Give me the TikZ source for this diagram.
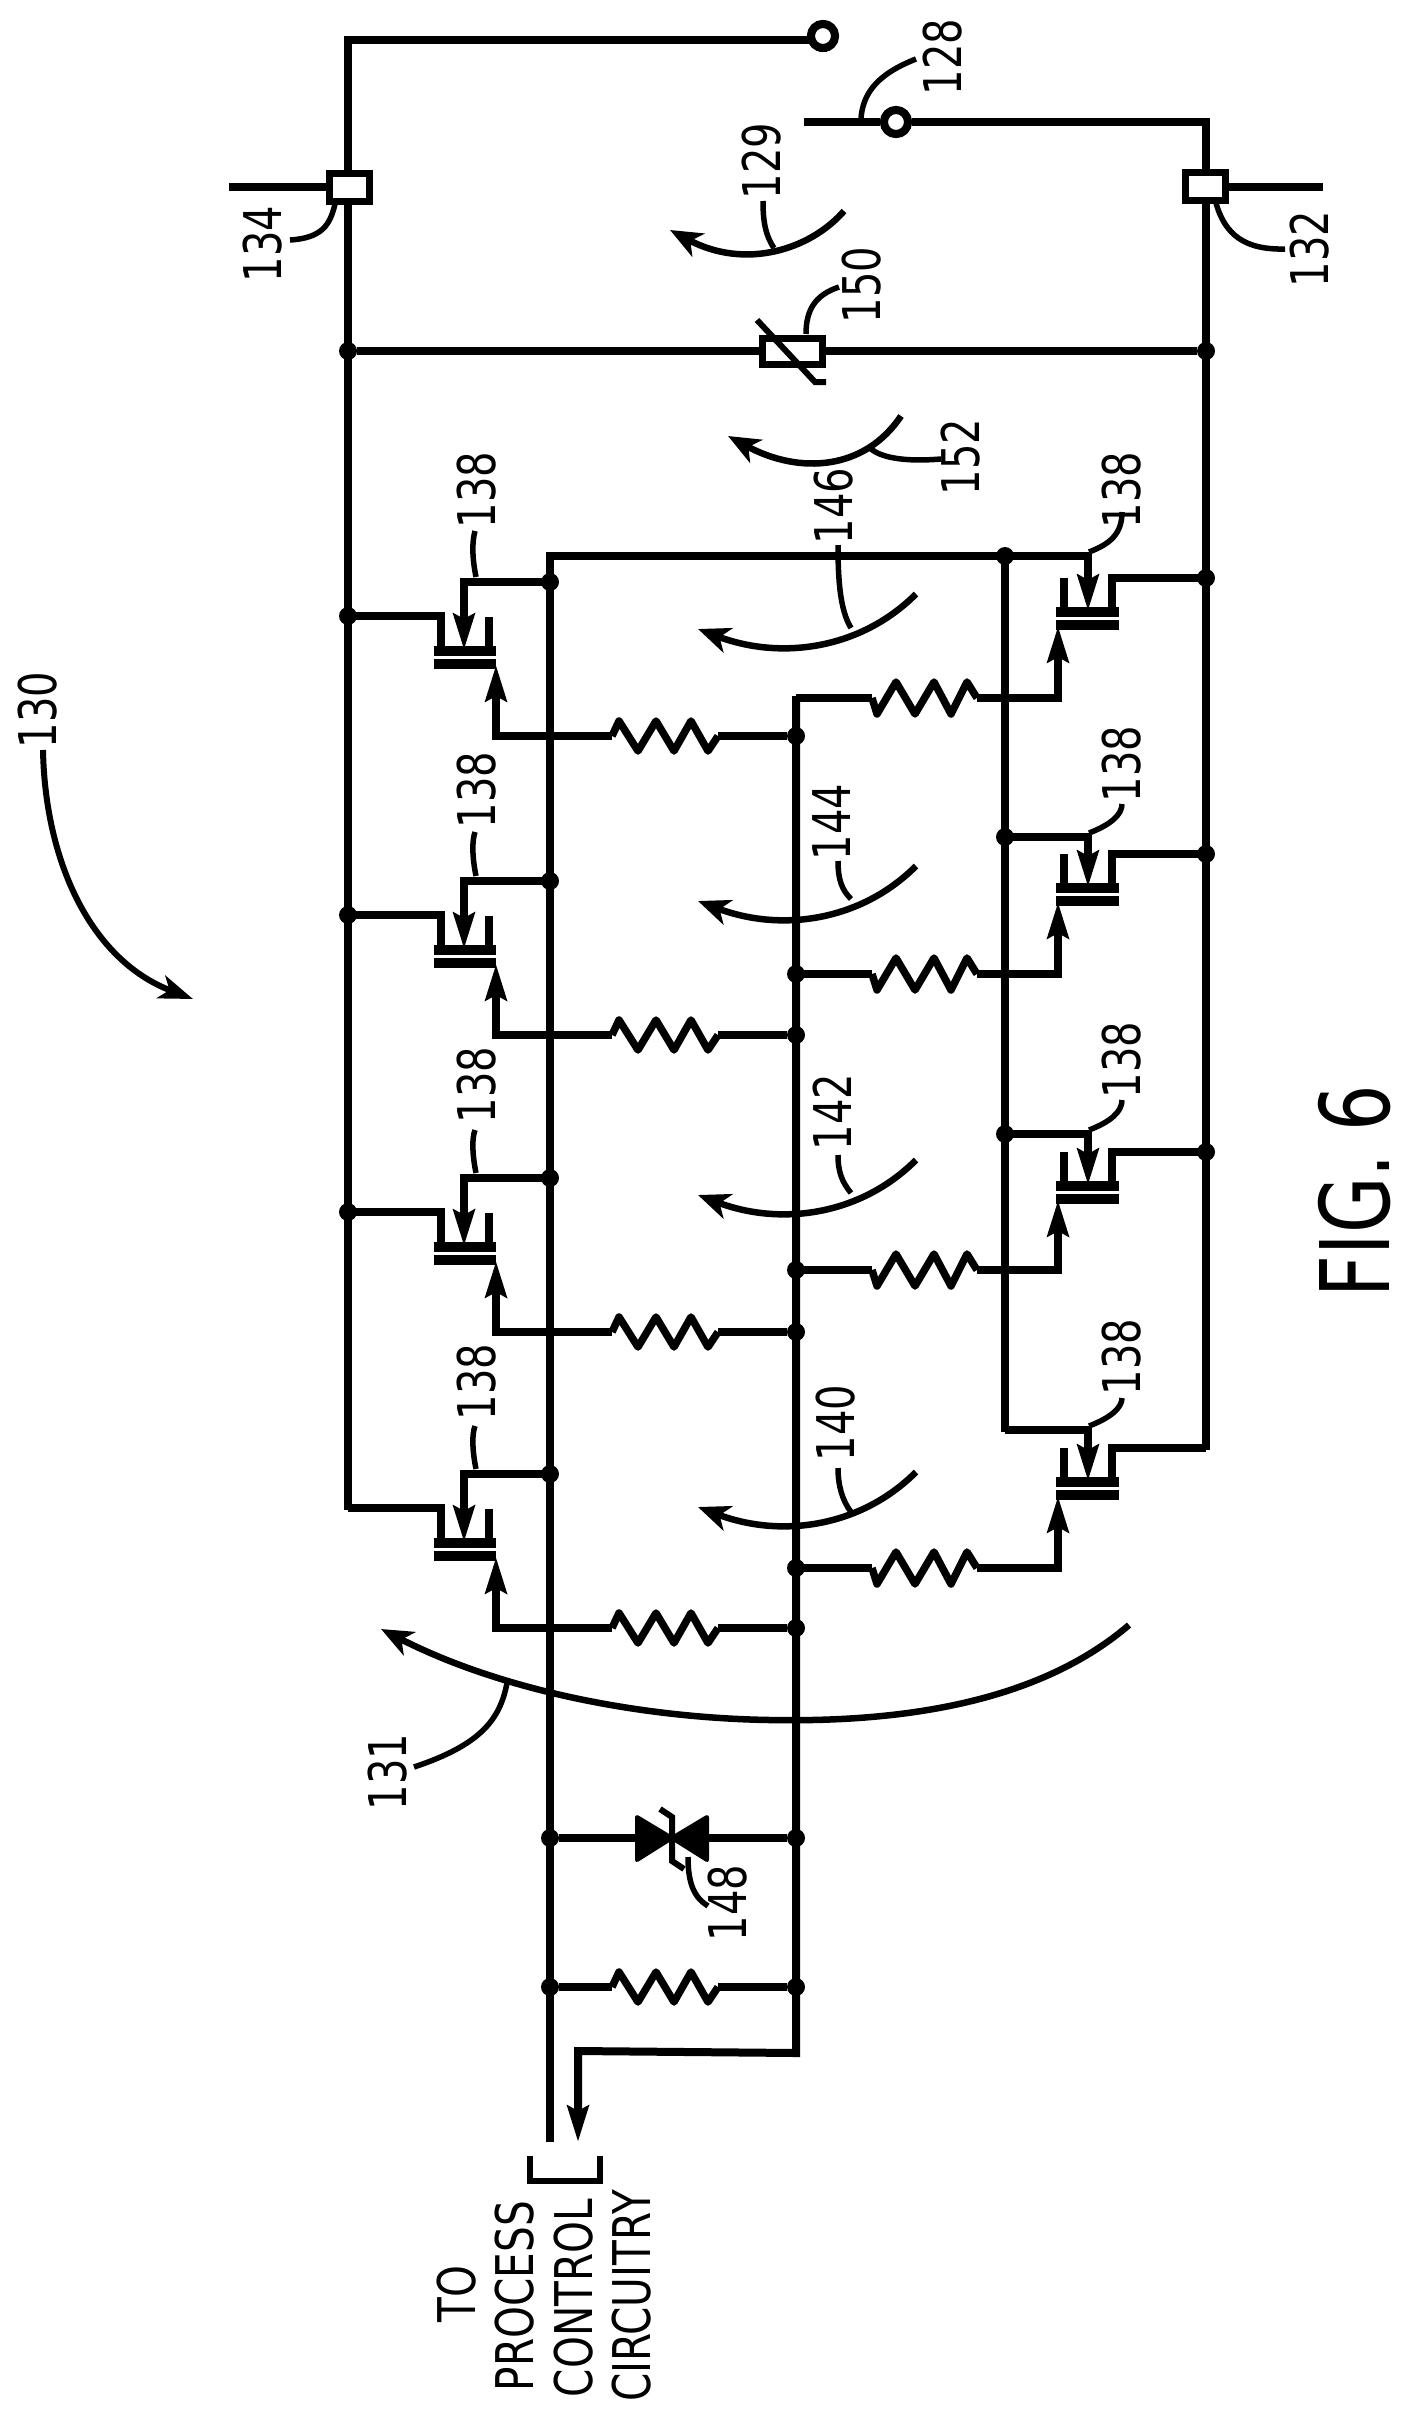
\documentclass[tikz,border=0pt]{standalone}
\usepackage{fontspec}
\usepackage{graphicx}
\setmainfont{DejaVu Sans}
\usetikzlibrary{arrows.meta}
\newcommand{\nar}[1]{\scalebox{.77}[1]{#1}}
\newcommand{\zigA}{-- ++(7,-15) -- ++(19,30) -- ++(18,-30) -- ++(18,30) -- ++(17,-30) -- ++(17,30) -- ++(10,-15)}
\newcommand{\zigB}{-- ++(5,16) -- ++(19,-32) -- ++(19,32) -- ++(19,-32) -- ++(17,32) -- ++(16,-32) -- ++(10,16)}
\tikzset{
  wire/.style={line width=8pt,line join=miter,line cap=butt},
  zig/.style={line width=7.5pt,line join=round},
  barline/.style={line width=10pt},
  lead/.style={line width=5.5pt},
  arc/.style={line width=6.5pt,-{Stealth[length=32pt,width=26pt,inset=9pt]}},
  thin tip/.style={-{Stealth[length=36pt,width=21pt,inset=5pt]}},
  dot/.style={circle,fill=black,inner sep=0pt,minimum size=18pt},
  term/.style={circle,draw=black,fill=white,line width=8pt,inner sep=0pt,minimum size=24pt},
  tbox/.style={rectangle,draw=black,fill=white,line width=7pt,inner sep=0pt,minimum width=40pt,minimum height=28pt},
  lbl/.style={rotate=90,inner sep=0pt,font=\fontsize{52}{52}\selectfont},
}
\begin{document}
\begin{tikzpicture}[x=1pt,y=-1pt]
\useasboundingbox (0,0) rectangle (1413,2419);
% main rails
\coordinate (ltop) at (348,40);
\coordinate (lbot) at (348,1510);
\coordinate (rtop) at (1206,122);
\coordinate (rbot) at (1206,1450);
\coordinate (swl) at (804,122);
\coordinate (lbt) at (550,556);
\coordinate (lbb) at (550,2142);
\coordinate (mbt) at (796,696);
\coordinate (mbb) at (796,2053);
\coordinate (ibt) at (1005,556);
\coordinate (ibb) at (1005,1432);
\coordinate (tbe) at (1088,556);
\coordinate (outc) at (578,2051);
\coordinate (outt) at (578,2142);
\node[term] (upT) at (823,36) {};
\node[term] (swT) at (896,122) {};
\draw[wire] (upT) |- (ltop) -- (lbot);
\draw[wire] (swl) -- (swT) -- (rtop) -- (rbot);
\draw[wire] (lbb) -- (lbt) -- (tbe);
\draw[wire] (ibt) -- (ibb);
\draw[wire,thin tip] (mbt) -- (mbb) -- (outc) -- (outt);
\node[term] at (upT) {};
\node[term] at (swT) {};
% relay-side boxes
\coordinate (s134) at (229,187);
\coordinate (s132) at (1323,187);
\draw[wire] (s134) -- (348,187);
\draw[wire] (s132) -- (1206,187);
\node[tbox] (b134) at (349,188) {};
\node[tbox] (b132) at (1205,187) {};
% varistor
\node[dot] (vl) at (348,351) {};
\node[dot] (vr) at (1206,351) {};
\draw[wire] (vl) -- (vr);
\node[tbox,minimum width=60pt,minimum height=26pt] (var) at (792,351) {};
\coordinate (vsa) at (757,320);
\coordinate (vsb) at (815,382);
\coordinate (vsc) at (826,382);
\draw[line width=6pt] (vsa) -- (vsb) -- (vsc);
% left transistors
\foreach \i/\D/\L in {1/582/736,2/881/1035,3/1178/1332,4/1474/1628}{
  \coordinate (lgt\i) at (441,\D+34);
  \coordinate (lgb\i) at (441,\D+69);
  \coordinate (lga\i) at (348,\D+34);
  \coordinate (lsa\i) at (489,\D+35);
  \coordinate (lsb\i) at (489,\D+69);
  \coordinate (lba\i) at (434,\D+69);
  \coordinate (lbb\i) at (496,\D+69);
  \coordinate (lca\i) at (434,\D+82);
  \coordinate (lcb\i) at (496,\D+82);
  \coordinate (ldb\i) at (550,\D);
  \coordinate (ldc\i) at (464,\D);
  \coordinate (ldt\i) at (464,\D+68);
  \coordinate (lre\i) at (718,\L);
  \coordinate (lrs\i) at (612,\L);
  \coordinate (lrc\i) at (496,\L);
  \coordinate (lrt\i) at (496,\D+83);
  \node[dot] (lrd\i) at (796,\L) {};
  \draw[wire] (lga\i) -| (lgb\i);
  \draw[wire] (lsa\i) -- (lsb\i);
  \draw[barline] (lba\i) -- (lbb\i);
  \draw[barline] (lca\i) -- (lcb\i);
  \draw[wire,thin tip] (ldb\i) -- (ldc\i) -- (ldt\i);
  \draw[wire] (lrd\i) -- (lre\i);
  \draw[zig] (lrs\i) \zigA;
  \draw[wire,thin tip] (lrs\i) -- (lrc\i) -- (lrt\i);
  \node[dot] at (ldb\i) {};
}
\foreach \i in {1,2,3}{\node[dot] at (lga\i) {};}
% right transistors
\foreach \i/\T/\R/\L in {1/556/578/698,2/837/854/974,3/1134/1152/1270,4/1430/1448/1568}{
  \coordinate (rra\i) at (1206,\R);
  \coordinate (rpb\i) at (1112,\R+34);
  \coordinate (rsa\i) at (1064,\R);
  \coordinate (rsb\i) at (1064,\R+34);
  \coordinate (rba\i) at (1056,\R+34);
  \coordinate (rbb\i) at (1119,\R+34);
  \coordinate (rca\i) at (1056,\R+47);
  \coordinate (rcb\i) at (1119,\R+47);
  \coordinate (rda\i) at (1005,\T);
  \coordinate (rdc\i) at (1088,\T);
  \coordinate (rdt\i) at (1088,\R+33);
  \coordinate (rrs\i) at (872,\L);
  \coordinate (rre\i) at (977,\L);
  \coordinate (rlc\i) at (1058,\L);
  \coordinate (rlt\i) at (1058,\R+48);
  \coordinate (rmb\i) at (796,\L);
  \draw[wire] (rra\i) -| (rpb\i);
  \draw[wire] (rsa\i) -- (rsb\i);
  \draw[barline] (rba\i) -- (rbb\i);
  \draw[barline] (rca\i) -- (rcb\i);
  \draw[wire,thin tip] (rda\i) -- (rdc\i) -- (rdt\i);
  \draw[wire] (rmb\i) -- (rrs\i);
  \draw[zig] (rrs\i) \zigB;
  \draw[wire,thin tip] (rre\i) -- (rlc\i) -- (rlt\i);
}
\foreach \i in {1,2,3}{\node[dot] at (rra\i) {};}
\foreach \i in {2,3,4}{\node[dot] at (rmb\i) {};}
\foreach \i in {2,3}{\node[dot] at (rda\i) {};}
\node[dot] at (ibt) {};
% lower section
\node[dot] (zl) at (550,1838) {};
\node[dot] (zr) at (796,1838) {};
\node[dot] (rl) at (550,1987) {};
\node[dot] (rr) at (796,1987) {};
\draw[wire] (zl) -- (zr);
\draw[line width=4pt,line join=round,fill=black] (637,1817) -- (637,1860) -- (672,1838) -- cycle;
\draw[line width=4pt,line join=round,fill=black] (707,1817) -- (707,1860) -- (672,1838) -- cycle;
\draw[line width=6pt] (660,1809) -- (672,1817) -- (672,1861) -- (684,1869);
\coordinate (rbs) at (612,1987);
\coordinate (rbe) at (718,1987);
\draw[wire] (rl) -- (rbs);
\draw[wire] (rbe) -- (rr);
\draw[zig] (rbs) \zigA;
% bracket
\coordinate (bra) at (530,2156);
\coordinate (brb) at (530,2181);
\coordinate (brc) at (600,2181);
\coordinate (brd) at (600,2156);
\draw[line width=6.5pt] (bra) -- (brb) -- (brc) -- (brd);
% rotation arcs
\draw[arc] (844,211) .. controls (810,250) and (745,270) .. (670,230);
\draw[arc] (901,416) .. controls (865,470) and (800,475) .. (728,436);
\foreach \t in {0,272,566,878}{
  \draw[arc] (916,594+\t) .. controls (860,650+\t) and (780,660+\t) .. (698,629+\t);
}
\draw[arc] (1129,1625) .. controls (1030,1710) and (880,1722) .. (770,1720) .. controls (640,1718) and (500,1690) .. (381,1629);
% leaders
\draw[lead] (861,118) .. controls (863,95) and (875,75) .. (916,59);
\draw[lead] (763,201) .. controls (763,220) and (765,235) .. (774,248);
\draw[lead] (1216,203) .. controls (1225,235) and (1245,250) .. (1285,249);
\draw[lead] (335,204) .. controls (330,225) and (322,238) .. (290,240);
\draw[lead] (806,334) .. controls (806,310) and (815,295) .. (839,287);
\draw[lead] (868,446) .. controls (878,458) and (905,462) .. (941,459);
\draw[lead] (838,545) .. controls (838,580) and (840,610) .. (851,628);
\draw[lead] (838,861) .. controls (838,880) and (842,890) .. (851,899);
\draw[lead] (838,1155) .. controls (838,1172) and (842,1182) .. (851,1193);
\draw[lead] (838,1468) .. controls (838,1485) and (842,1500) .. (851,1512);
\draw[lead] (507,1683) .. controls (500,1720) and (480,1745) .. (414,1767);
\draw[lead] (688,1857) .. controls (688,1885) and (695,1898) .. (708,1906);
\draw[line width=6pt,-{Stealth[length=34pt,width=24pt,inset=9pt]}] (43,750) .. controls (45,860) and (90,960) .. (193,999);
\foreach \y/\e in {582/531,881/832,1178/1130,1474/1426}{
  \draw[lead] (476,\y-5) .. controls (472,\y-25) and (472,\y-40) .. (475,\e);
}
\foreach \a/\b in {556/512,837/804,1134/1100,1430/1398}{
  \draw[lead] (1089,\a-4) .. controls (1110,\a-12) and (1122,\a-22) .. (1122,\b);
}
% labels
\node[lbl] (t128) at (943,57) {\nar{128}};
\node[lbl] (t129) at (762,161) {\nar{129}};
\node[lbl] (t132) at (1310,249) {\nar{132}};
\node[lbl] (t134) at (263,244) {\nar{134}};
\node[lbl] (t150) at (862,285) {\nar{150}};
\node[lbl] (t152) at (961,457) {\nar{152}};
\node[lbl] (t146) at (834,506) {\nar{146}};
\node[lbl] (t144) at (832,822) {\nar{144}};
\node[lbl] (t142) at (832,1112) {\nar{142}};
\node[lbl] (t140) at (836,1423) {\nar{140}};
\node[lbl] (t131) at (388,1772) {\nar{131}};
\node[lbl] (t148) at (728,1903) {\nar{148}};
\node[lbl] (t130) at (38,710) {\nar{130}};
\node[lbl] (tl1) at (477,490) {\nar{138}};
\node[lbl] (tl2) at (477,790) {\nar{138}};
\node[lbl] (tl3) at (477,1085) {\nar{138}};
\node[lbl] (tl4) at (477,1382) {\nar{138}};
\node[lbl] (tr1) at (1122,490) {\nar{138}};
\node[lbl] (tr2) at (1122,764) {\nar{138}};
\node[lbl] (tr3) at (1122,1060) {\nar{138}};
\node[lbl] (tr4) at (1122,1357) {\nar{138}};
\node[lbl] (p1) at (457,2294) {\scalebox{.78}[1]{TO}};
\node[lbl] (p2) at (515,2296) {\scalebox{.78}[1]{PROCESS}};
\node[lbl] (p3) at (574,2298) {\scalebox{.78}[1]{CONTROL}};
\node[lbl] (p4) at (632,2296) {\scalebox{.78}[1]{CIRCUITRY}};
\node[rotate=90,inner sep=0pt,font=\fontsize{96}{96}\selectfont] (fig) at (1355,1191) {\scalebox{.76}[1]{FIG. 6}};
\end{tikzpicture}
\end{document}
